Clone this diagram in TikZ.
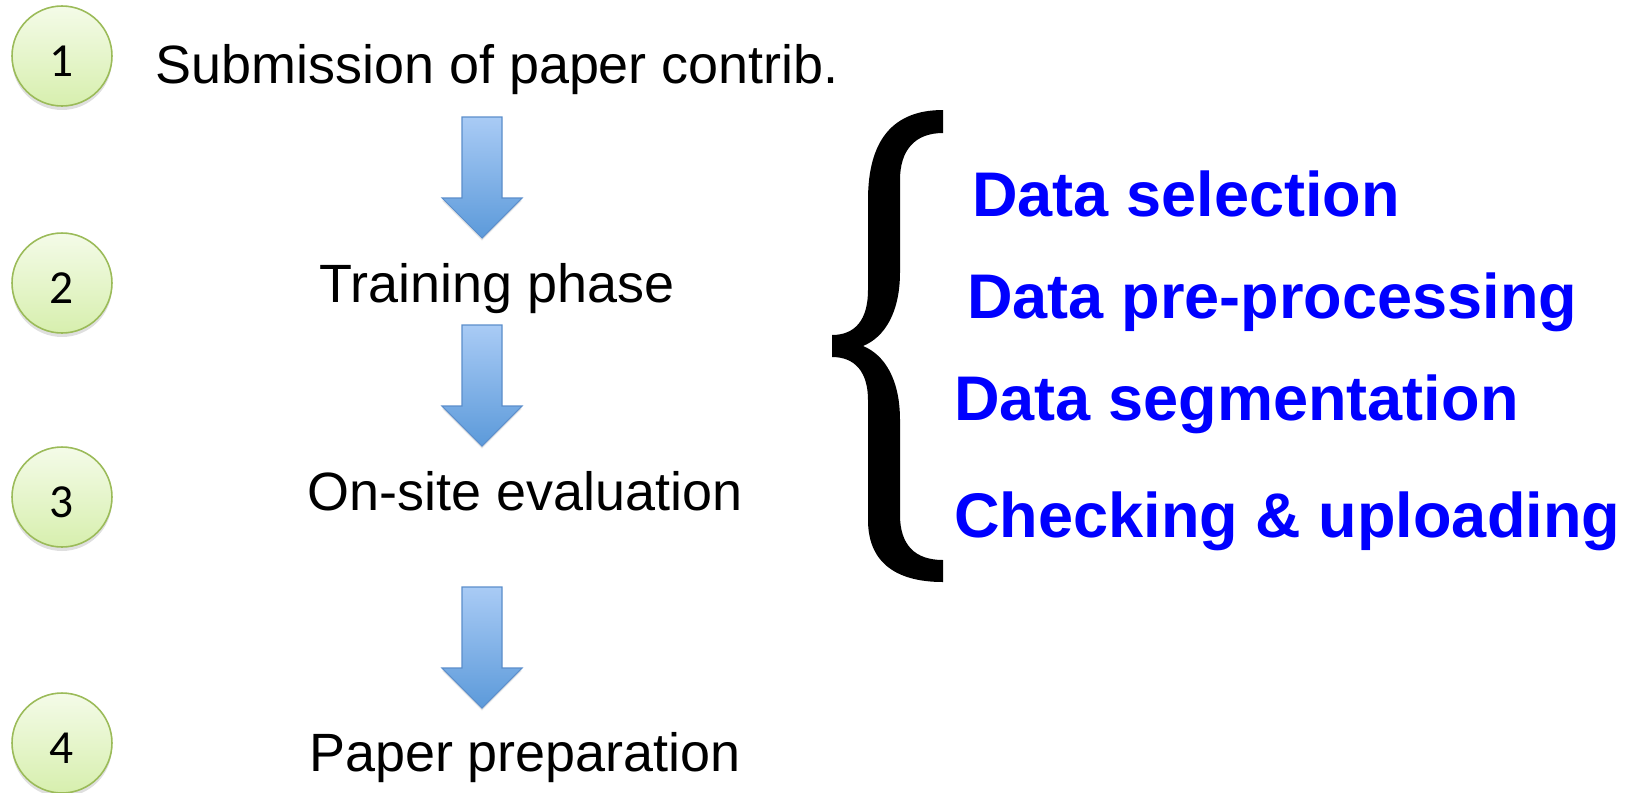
\documentclass[tikz,border=0pt]{standalone}
\usepackage{fontspec}
\setmainfont{Liberation Sans}
\newfontfamily\numfont{Carlito}
\usetikzlibrary{shadows}

\definecolor{ringgreen}{HTML}{9BBB59}
\definecolor{balltop}{HTML}{F4FBE8}
\definecolor{ballbot}{HTML}{D7EFAE}
\definecolor{arrowtop}{HTML}{A9CBF5}
\definecolor{arrowbot}{HTML}{5C9ADA}
\definecolor{arrowrim}{HTML}{5B8ECB}
\definecolor{taskblue}{HTML}{0000FF}

\tikzset{
  stepnum/.style={circle, draw=ringgreen, line width=0.9pt, minimum size=2cm,
    inner sep=0pt, top color=balltop, bottom color=ballbot,
    text height=0.8cm, text depth=0pt,
    font=\numfont\fontsize{27}{27}\selectfont,
    drop shadow={shadow xshift=0pt, shadow yshift=-0.08cm, opacity=0.25}},
  phase/.style={inner sep=0pt, font=\fontsize{30.7}{32}\selectfont},
  task/.style={inner sep=0pt, anchor=base west, text=taskblue,
    font=\bfseries\fontsize{35.9}{38}\selectfont},
  blockarrow/.style={draw=arrowrim, line width=0.6pt,
    top color=arrowtop, bottom color=arrowbot,
    drop shadow={shadow xshift=0pt, shadow yshift=-0.05cm, opacity=0.2}}
}

\begin{document}
\begin{tikzpicture}[x=0.02cm, y=-0.02cm]
  \useasboundingbox (0,0) rectangle (1633,792);

  % numbered steps
  \node[stepnum] (one)   at (62,56)  {1};
  \node[stepnum] (two)   at (62,283) {2};
  \node[stepnum] (three) at (62,497) {3};
  \node[stepnum] (four)  at (62,743) {4};

  % phases
  \node[phase, anchor=base west] (submit) at (155,83)  {Submission of paper contrib.};
  \node[phase, anchor=base]      (train)  at (497,302) {Training phase};
  \node[phase, anchor=base]      (onsite) at (525,510) {On-site evaluation};
  \node[phase, anchor=base]      (paper)  at (525,771) {Paper preparation};

  % block arrows
  \foreach \t in {117,325,587}
    \path[blockarrow] (462,\t) -- (502,\t) -- (502,\t+81) -- (522,\t+81)
      -- (482,\t+121) -- (442,\t+81) -- (462,\t+81) -- cycle;

  % brace
  \fill (943,110) .. controls (893,110) and (868,140) .. (868,200) -- (868,290)
    .. controls (868,320) and (855,335) .. (832,335) -- (832,357)
    .. controls (855,357) and (868,372) .. (868,400) -- (868,520)
    .. controls (868,560) and (893,582) .. (943,582) -- (943,560)
    .. controls (915,560) and (900,545) .. (900,515) -- (900,420)
    .. controls (900,380) and (885,355) .. (863,346)
    .. controls (885,337) and (900,312) .. (900,272) -- (900,180)
    .. controls (900,150) and (915,133) .. (943,133) -- cycle;

  % training tasks
  \node[task] (select)  at (972,216) {Data selection};
  \node[task] (preproc) at (967,318) {Data pre-processing};
  \node[task] (segment) at (954,420) {Data segmentation};
  \node[task] (upload)  at (954,537) {Checking \& uploading};
\end{tikzpicture}
\end{document}
